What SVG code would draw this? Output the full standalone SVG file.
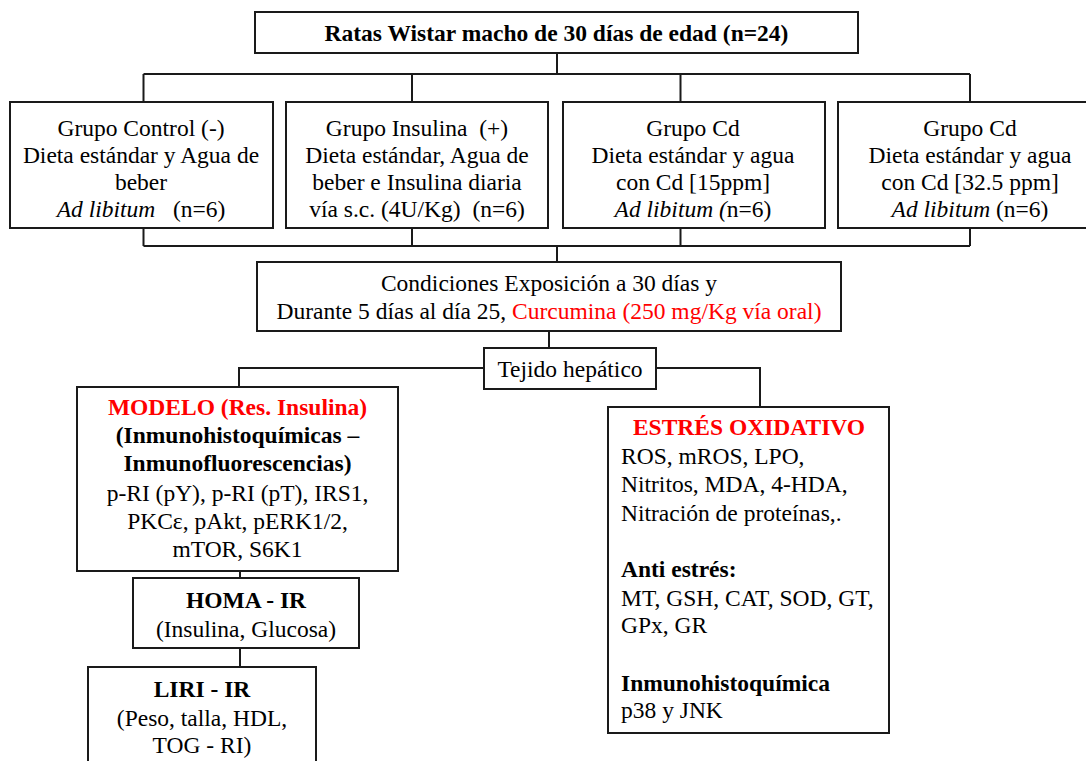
<svg xmlns="http://www.w3.org/2000/svg" width="1086" height="761" viewBox="0 0 1086 761">
  <style>
    .box { fill: #ffffff; stroke: #1a1a1a; stroke-width: 2; }
    .wire { fill: none; stroke: #1a1a1a; stroke-width: 2; }
    text { font-family: "Liberation Serif", "Times New Roman", serif; font-size: 23.5px; fill: #000000; white-space: pre; }
    .c { text-anchor: middle; }
    .b { font-weight: bold; }
    .i { font-style: italic; }
    .red { fill: #ff0000; }
  </style>
  <rect width="1086" height="761" fill="#ffffff"/>

  <!-- connectors -->
  <g id="connectors">
    <path class="wire" d="M557 53 V74 M143.5 74 H970 M143.5 74 V102 M412 74 V102 M680.5 74 V102 M970 74 V102"/>
    <path class="wire" d="M143.5 228 V246 M412 228 V246 M680.5 228 V246 M970 228 V246 M143.5 246 H970 M557 246 V262"/>
    <path class="wire" d="M549 331 V348"/>
    <path class="wire" d="M484 368 H239 V387"/>
    <path class="wire" d="M656 368 H760 V407"/>
    <path class="wire" d="M240 571 V578 M240 648 V667"/>
  </g>

  <!-- source animals -->
  <g id="ratas">
    <rect class="box" x="255" y="12" width="603" height="41"/>
    <text class="c b" x="556.5" y="40.5">Ratas Wistar macho de 30 días de edad (n=24)</text>
  </g>

  <!-- groups -->
  <g id="grupo-control">
    <rect class="box" x="10" y="102" width="263" height="126"/>
    <text class="c" x="141" y="135.5">Grupo Control (-)</text>
    <text class="c" x="141" y="162.5">Dieta estándar y Agua de</text>
    <text class="c" x="141" y="189.5">beber</text>
    <text class="c" x="141" y="216.5"><tspan class="i">Ad libitum</tspan>   (n=6)</text>
  </g>

  <g id="grupo-insulina">
    <rect class="box" x="286" y="102" width="262" height="126"/>
    <text class="c" x="417" y="135.5">Grupo Insulina  (+)</text>
    <text class="c" x="417" y="162.5">Dieta estándar, Agua de</text>
    <text class="c" x="417" y="189.5">beber e Insulina diaria</text>
    <text class="c" x="417" y="216.5">vía s.c. (4U/Kg)  (n=6)</text>
  </g>

  <g id="grupo-cd-15">
    <rect class="box" x="563" y="102" width="262" height="126"/>
    <text class="c" x="693" y="135.5">Grupo Cd</text>
    <text class="c" x="693" y="162.5">Dieta estándar y agua</text>
    <text class="c" x="693" y="189.5">con Cd [15ppm]</text>
    <text class="c" x="693" y="216.5"><tspan class="i">Ad libitum (</tspan>n=6)</text>
  </g>

  <g id="grupo-cd-32">
    <rect class="box" x="838" y="102" width="266" height="126"/>
    <text class="c" x="970" y="135.5">Grupo Cd</text>
    <text class="c" x="970" y="162.5">Dieta estándar y agua</text>
    <text class="c" x="970" y="189.5">con Cd [32.5 ppm]</text>
    <text class="c" x="970" y="216.5"><tspan class="i">Ad libitum</tspan> (n=6)</text>
  </g>

  <!-- exposure conditions -->
  <g id="condiciones">
    <rect class="box" x="257" y="262" width="584" height="69"/>
    <text class="c" x="549" y="291">Condiciones Exposición a 30 días y</text>
    <text class="c" x="549" y="319">Durante 5 días al día 25, <tspan class="red">Curcumina (250 mg/Kg vía oral)</tspan></text>
  </g>

  <g id="tejido">
    <rect class="box" x="484" y="348" width="172" height="41"/>
    <text class="c" x="570" y="377">Tejido hepático</text>
  </g>

  <!-- insulin resistance branch -->
  <g id="modelo">
    <rect class="box" x="77" y="387" width="321" height="184"/>
    <text class="c b red" x="237.5" y="415">MODELO (Res. Insulina)</text>
    <text class="c b" x="237.5" y="443">(Inmunohistoquímicas –</text>
    <text class="c b" x="237.5" y="471">Inmunofluorescencias)</text>
    <text class="c" x="237.5" y="501">p-RI (pY), p-RI (pT), IRS1,</text>
    <text class="c" x="237.5" y="529">PKCε, pAkt, pERK1/2,</text>
    <text class="c" x="237.5" y="557">mTOR, S6K1</text>
  </g>

  <g id="homa">
    <rect class="box" x="133" y="578" width="226" height="70"/>
    <text class="c b" x="246" y="608">HOMA - IR</text>
    <text class="c" x="246" y="636.5">(Insulina, Glucosa)</text>
  </g>

  <g id="liri">
    <rect class="box" x="88" y="667" width="228" height="110"/>
    <text class="c b" x="202" y="696.5">LIRI - IR</text>
    <text class="c" x="202" y="726">(Peso, talla, HDL,</text>
    <text class="c" x="202" y="753">TOG - RI)</text>
  </g>

  <!-- oxidative stress branch -->
  <g id="estres">
    <rect class="box" x="608" y="407" width="281" height="326"/>
    <text class="c b red" x="749" y="435">ESTRÉS OXIDATIVO</text>
    <text x="621" y="464">ROS, mROS, LPO,</text>
    <text x="621" y="492">Nitritos, MDA, 4-HDA,</text>
    <text x="621" y="520.5">Nitración de proteínas,.</text>
    <text class="b" x="621" y="577">Anti estrés:</text>
    <text x="621" y="605.5">MT, GSH, CAT, SOD, GT,</text>
    <text x="621" y="633">GPx, GR</text>
    <text class="b" x="621" y="690.5">Inmunohistoquímica</text>
    <text x="621" y="718">p38 y JNK</text>
  </g>
</svg>
